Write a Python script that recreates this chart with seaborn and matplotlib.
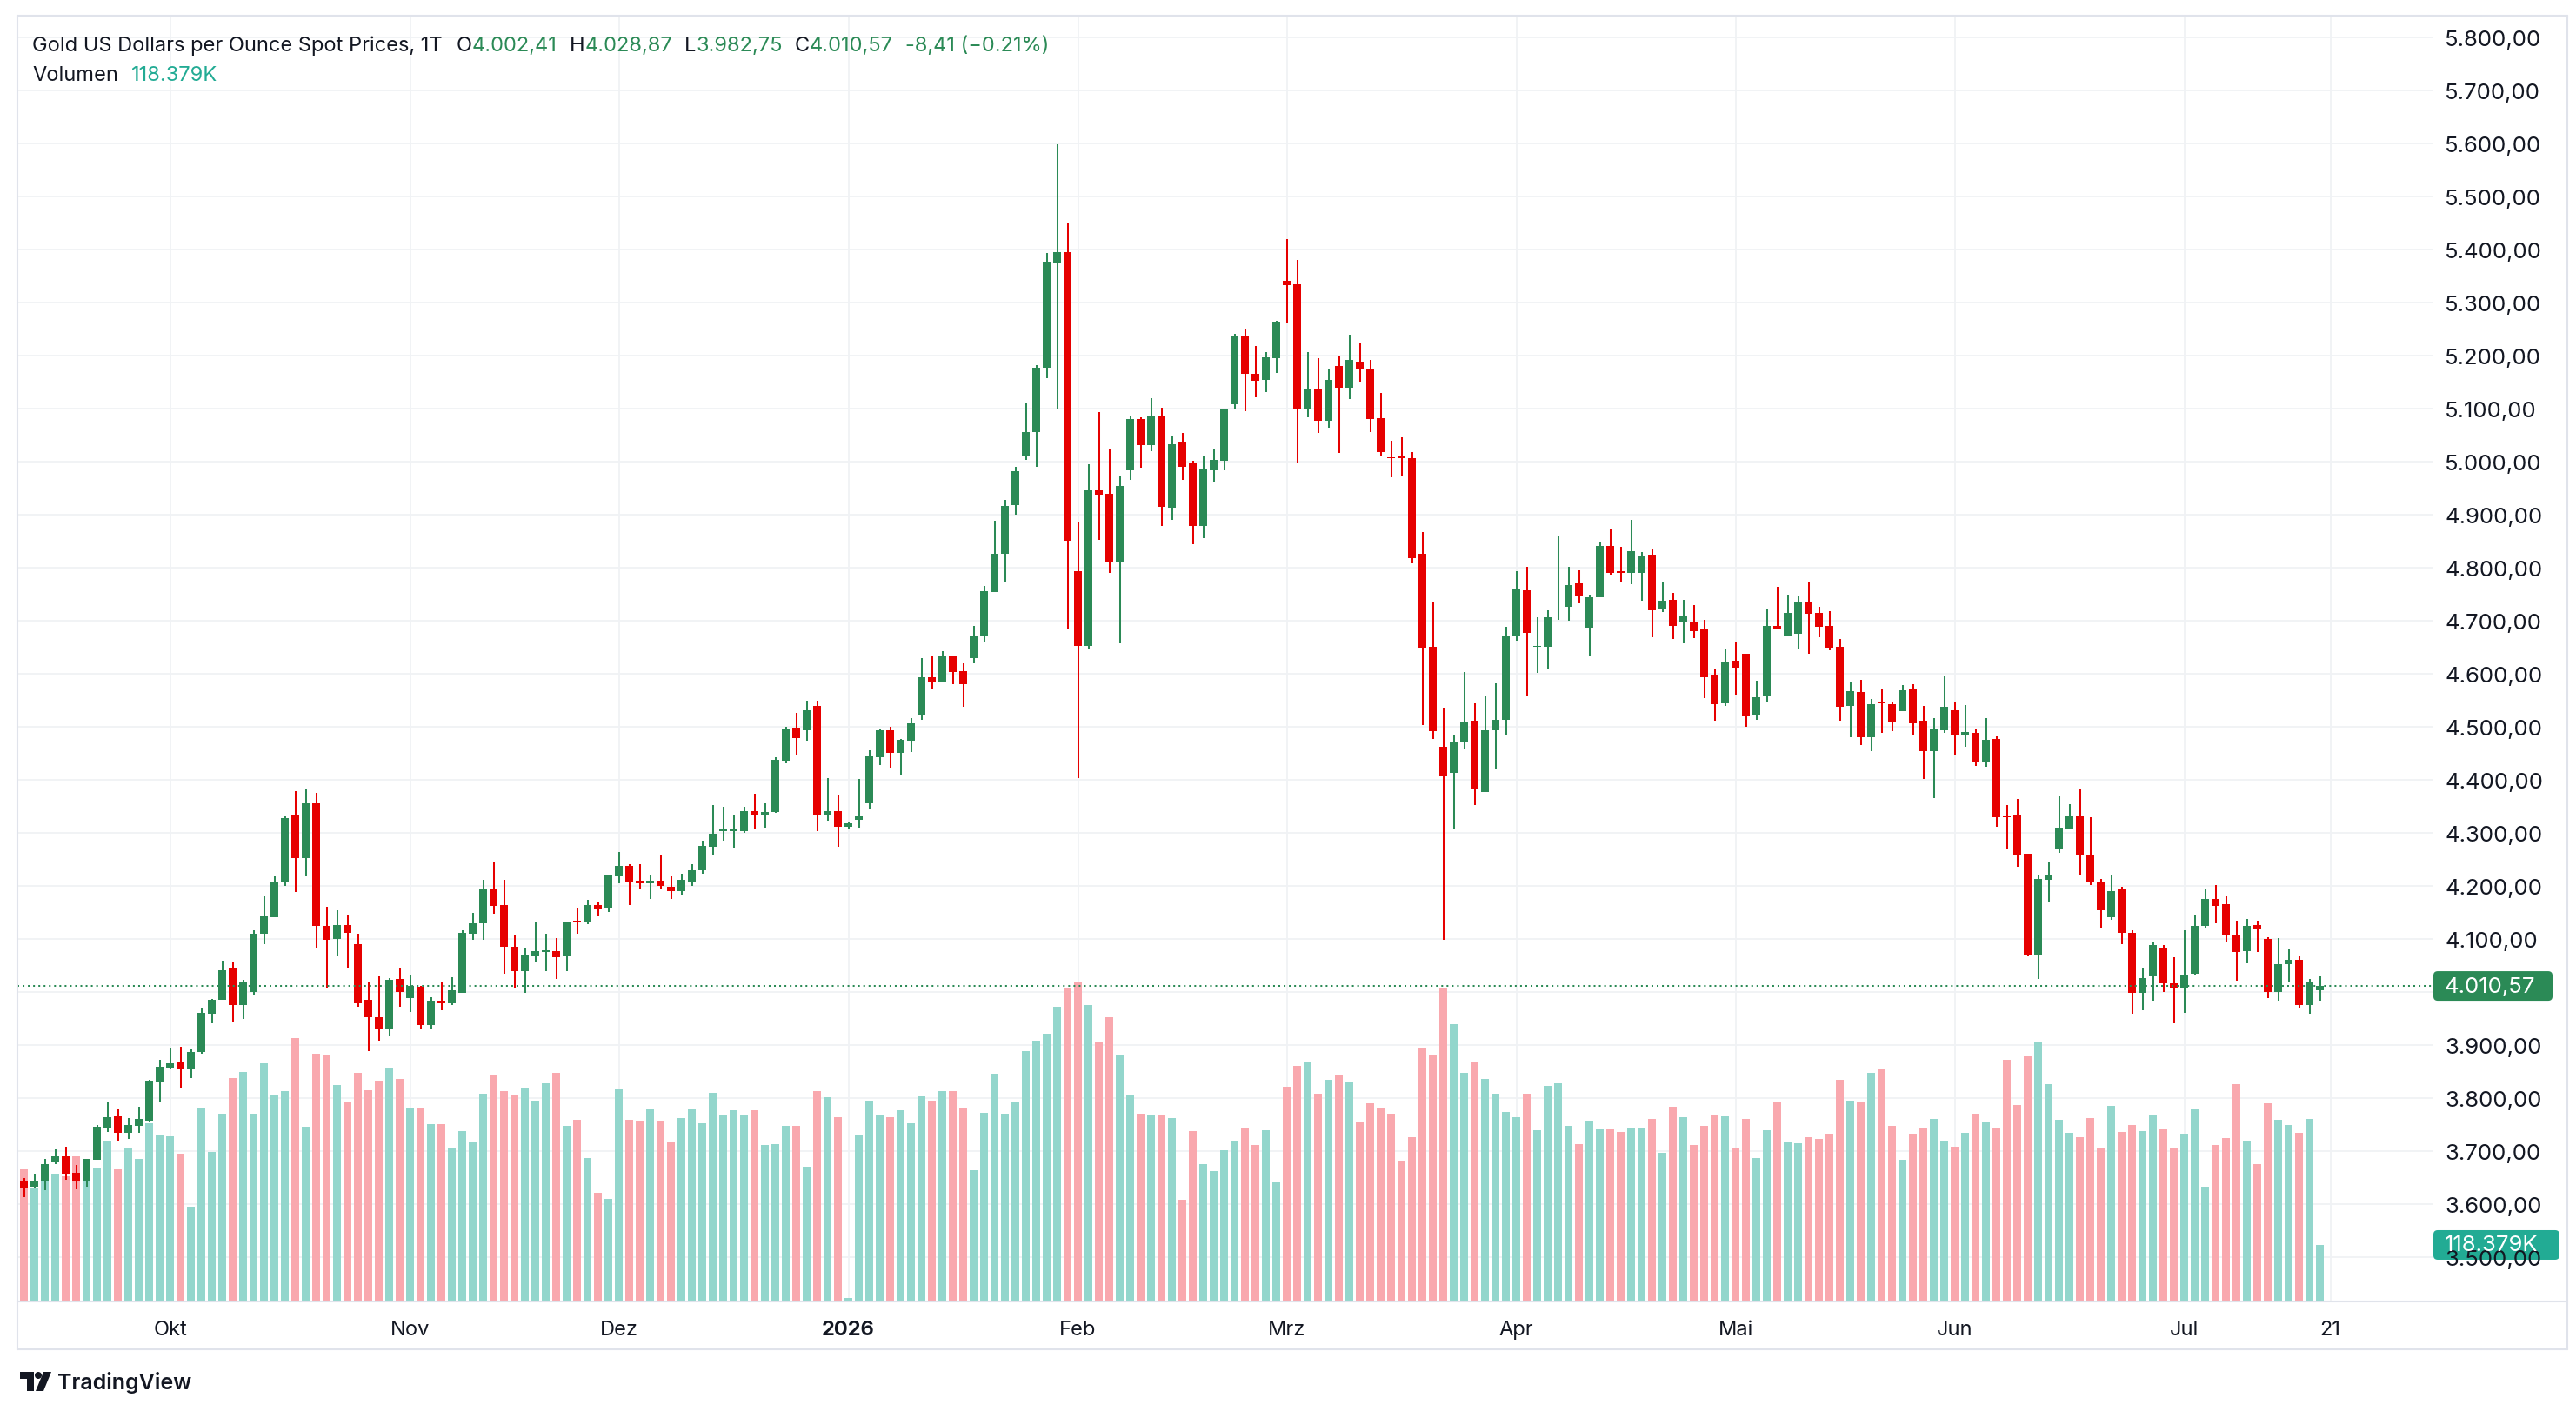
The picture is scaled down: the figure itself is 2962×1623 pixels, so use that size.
import numpy as np
import pandas as pd
import seaborn as sns
import matplotlib.pyplot as plt
from matplotlib.patches import FancyBboxPatch, Polygon, Circle
from matplotlib.lines import Line2D
from matplotlib.transforms import IdentityTransform

# Tageskerzen Gold Spot (USD/oz), ab Mitte Sep 2025 bis 20. Jul 2026
opens = [
    3642, 3632, 3642, 3678, 3689, 3658, 3642, 3683, 3744, 3765,
    3734, 3747, 3755, 3830, 3857, 3867, 3854, 3886, 3959, 3984,
    4044, 3974, 4000, 4109, 4141, 4208, 4332, 4251, 4355, 4124,
    4100, 4126, 4089, 3984, 3952, 3929, 4024, 3988, 4009, 3937,
    3983, 3978, 3998, 4109, 4128, 4194, 4163, 4084, 4039, 4067,
    4075, 4076, 4067, 4134, 4130, 4163, 4157, 4217, 4237, 4209,
    4204, 4209, 4198, 4189, 4208, 4228, 4273, 4303, 4303, 4303,
    4340, 4332, 4339, 4435, 4498, 4493, 4539, 4332, 4340, 4311,
    4324, 4355, 4442, 4493, 4450, 4473, 4520, 4593, 4583, 4632,
    4604, 4628, 4670, 4754, 4825, 4917, 5011, 5055, 5176, 5375,
    5395, 4792, 4652, 4945, 4938, 4811, 4983, 5080, 5030, 5086,
    4913, 5037, 4996, 4878, 4983, 5001, 5107, 5237, 5165, 5153,
    5194, 5341, 5333, 5097, 5135, 5076, 5180, 5138, 5187, 5175,
    5081, 5007, 5009, 5005, 4825, 4650, 4461, 4412, 4471, 4510,
    4377, 4492, 4512, 4669, 4756, 4650, 4650, 4723, 4725, 4769,
    4686, 4743, 4841, 4792, 4790, 4790, 4823, 4720, 4738, 4696,
    4697, 4683, 4597, 4544, 4624, 4637, 4521, 4559, 4689, 4672,
    4675, 4734, 4714, 4689, 4650, 4539, 4565, 4480, 4547, 4542,
    4529, 4570, 4511, 4454, 4493, 4531, 4482, 4488, 4434, 4476,
    4330, 4332, 4260, 4070, 4210, 4270, 4307, 4330, 4256, 4208,
    4141, 4193, 4111, 3998, 4029, 4083, 4016, 4006, 4033, 4124,
    4175, 4165, 4105, 4077, 4126, 4100, 4000, 4051, 4060, 3974,
    4002.41,
]
highs = [
    3648, 3657, 3684, 3702, 3707, 3673, 3685, 3748, 3791, 3778,
    3762, 3783, 3834, 3871, 3895, 3896, 3891, 3970, 3986, 4058,
    4057, 4022, 4116, 4180, 4218, 4331, 4378, 4381, 4375, 4160,
    4154, 4144, 4109, 4019, 4029, 4025, 4045, 4030, 4010, 3989,
    4019, 4027, 4116, 4148, 4211, 4243, 4211, 4107, 4081, 4132,
    4109, 4101, 4132, 4158, 4173, 4168, 4221, 4263, 4240, 4240,
    4219, 4258, 4217, 4222, 4240, 4284, 4352, 4348, 4334, 4348,
    4373, 4355, 4442, 4499, 4525, 4548, 4548, 4403, 4371, 4319,
    4401, 4455, 4496, 4499, 4477, 4516, 4629, 4634, 4642, 4632,
    4619, 4689, 4765, 4888, 4927, 4989, 5111, 5182, 5392, 5598,
    5450, 4884, 4994, 5092, 5024, 4971, 5086, 5083, 5119, 5101,
    5047, 5053, 5001, 5010, 5022, 5098, 5240, 5250, 5217, 5206,
    5265, 5419, 5380, 5206, 5194, 5175, 5198, 5238, 5223, 5191,
    5128, 5038, 5045, 5017, 4866, 4734, 4536, 4483, 4602, 4544,
    4556, 4581, 4688, 4792, 4801, 4706, 4719, 4858, 4801, 4795,
    4749, 4846, 4871, 4838, 4890, 4828, 4833, 4772, 4752, 4738,
    4729, 4701, 4609, 4645, 4658, 4637, 4586, 4722, 4763, 4748,
    4747, 4773, 4725, 4717, 4665, 4583, 4588, 4552, 4570, 4546,
    4578, 4580, 4539, 4516, 4594, 4546, 4541, 4496, 4515, 4481,
    4352, 4363, 4260, 4219, 4245, 4368, 4353, 4381, 4329, 4213,
    4221, 4198, 4115, 4044, 4095, 4087, 4064, 4115, 4144, 4195,
    4201, 4180, 4134, 4137, 4134, 4103, 4101, 4080, 4067, 4023,
    4028.87,
]
lows = [
    3613, 3631, 3625, 3675, 3645, 3627, 3632, 3683, 3735, 3717,
    3722, 3734, 3753, 3793, 3854, 3819, 3837, 3883, 3940, 3984,
    3944, 3948, 3995, 4090, 4141, 4200, 4187, 4218, 4082, 4006,
    4066, 4044, 3972, 3887, 3908, 3915, 3972, 3962, 3929, 3929,
    3964, 3974, 3998, 4097, 4098, 4146, 4033, 4006, 3998, 4056,
    4039, 4023, 4039, 4109, 4127, 4142, 4150, 4204, 4163, 4194,
    4175, 4194, 4175, 4183, 4200, 4222, 4257, 4284, 4271, 4299,
    4307, 4309, 4337, 4430, 4447, 4473, 4303, 4322, 4273, 4306,
    4309, 4345, 4427, 4422, 4407, 4452, 4513, 4569, 4582, 4580,
    4537, 4619, 4659, 4754, 4772, 4900, 5003, 4989, 5157, 5100,
    4683, 4402, 4645, 4852, 4790, 4656, 4965, 4987, 5019, 4878,
    4889, 4965, 4843, 4855, 4962, 4982, 5100, 5095, 5121, 5131,
    5167, 5262, 4998, 5083, 5053, 5063, 5015, 5118, 5150, 5055,
    5009, 4969, 4973, 4808, 4502, 4477, 4098, 4307, 4456, 4352,
    4376, 4420, 4483, 4661, 4556, 4601, 4607, 4701, 4699, 4732,
    4633, 4743, 4786, 4773, 4768, 4737, 4668, 4715, 4664, 4657,
    4667, 4554, 4510, 4539, 4560, 4500, 4513, 4546, 4683, 4672,
    4647, 4637, 4668, 4644, 4511, 4480, 4464, 4454, 4488, 4491,
    4529, 4482, 4401, 4365, 4488, 4447, 4462, 4426, 4423, 4311,
    4269, 4236, 4067, 4023, 4170, 4262, 4306, 4219, 4201, 4121,
    4136, 4090, 3959, 3964, 3983, 4000, 3941, 3960, 4032, 4121,
    4128, 4092, 4021, 4054, 4074, 3987, 3983, 4018, 3969, 3959,
    3982.75,
]
closes = [
    3630, 3643, 3675, 3689, 3656, 3642, 3684, 3745, 3763, 3734,
    3748, 3760, 3832, 3858, 3865, 3854, 3886, 3960, 3985, 4040,
    3975, 4018, 4109, 4142, 4208, 4327, 4251, 4355, 4123, 4097,
    4126, 4110, 3978, 3951, 3929, 4022, 4000, 4010, 3937, 3983,
    3978, 4003, 4111, 4129, 4194, 4162, 4085, 4039, 4068, 4076,
    4078, 4065, 4132, 4130, 4163, 4155, 4219, 4237, 4207, 4204,
    4209, 4199, 4189, 4210, 4228, 4275, 4298, 4306, 4306, 4340,
    4332, 4339, 4437, 4496, 4478, 4530, 4332, 4340, 4311, 4317,
    4330, 4443, 4493, 4450, 4475, 4506, 4593, 4583, 4632, 4603,
    4580, 4671, 4755, 4825, 4916, 4981, 5055, 5177, 5376, 5395,
    4850, 4652, 4945, 4937, 4811, 4953, 5080, 5030, 5086, 4914,
    5032, 4990, 4878, 4984, 5002, 5098, 5237, 5164, 5151, 5196,
    5263, 5332, 5097, 5135, 5077, 5154, 5138, 5191, 5175, 5079,
    5018, 5005, 5006, 4817, 4648, 4491, 4406, 4471, 4507, 4381,
    4493, 4512, 4669, 4759, 4676, 4651, 4705, 4724, 4766, 4747,
    4743, 4841, 4789, 4789, 4830, 4820, 4719, 4737, 4690, 4707,
    4680, 4593, 4542, 4620, 4611, 4519, 4555, 4689, 4683, 4714,
    4734, 4713, 4687, 4649, 4537, 4566, 4480, 4542, 4544, 4508,
    4568, 4505, 4454, 4495, 4537, 4482, 4490, 4433, 4475, 4328,
    4328, 4259, 4070, 4212, 4219, 4309, 4330, 4256, 4208, 4154,
    4190, 4110, 3998, 4026, 4088, 4015, 4006, 4031, 4123, 4175,
    4162, 4105, 4074, 4123, 4118, 4000, 4052, 4060, 3974, 4019,
    4010.57,
]
# Volumen in Tausend
volume_k = [
    277, 236, 262, 268, 262, 304, 268, 279, 335, 277,
    322, 299, 373, 348, 346, 310, 198, 404, 313, 393,
    468, 481, 393, 499, 433, 441, 552, 366, 519, 517,
    453, 419, 479, 442, 462, 488, 466, 406, 404, 371,
    371, 320, 357, 333, 435, 473, 441, 433, 446, 421,
    457, 479, 368, 381, 300, 228, 215, 444, 381, 377,
    402, 379, 333, 384, 402, 373, 437, 390, 401, 390,
    401, 328, 330, 368, 368, 282, 441, 428, 386, 7,
    348, 421, 392, 386, 401, 373, 430, 421, 441, 441,
    404, 275, 395, 477, 393, 419, 524, 546, 561, 617,
    657, 670, 621, 544, 595, 515, 433, 393, 390, 392,
    384, 213, 357, 288, 273, 317, 335, 364, 328, 359,
    249, 450, 493, 501, 435, 464, 475, 461, 375, 415,
    404, 393, 293, 344, 532, 515, 656, 581, 479, 501,
    466, 435, 397, 386, 435, 359, 452, 457, 368, 330,
    377, 361, 361, 355, 362, 364, 382, 311, 408, 386,
    328, 368, 390, 388, 322, 382, 300, 359, 419, 333,
    331, 344, 340, 351, 464, 421, 419, 479, 486, 368,
    297, 351, 364, 382, 337, 324, 353, 393, 375, 364,
    506, 411, 513, 544, 455, 381, 353, 344, 384, 320,
    410, 355, 370, 357, 392, 361, 320, 351, 402, 240,
    328, 342, 455, 337, 288, 415, 381, 370, 353, 382,
    118.379,
]

month_pos = [14, 37, 57, 79, 101, 121, 143, 164, 185, 207, 221]
month_labels = ["Okt", "Nov", "Dez", "2026", "Feb", "Mrz", "Apr", "Mai", "Jun", "Jul", "21"]
price_ticks = [3500, 3600, 3700, 3800, 3900, 4000, 4100, 4200, 4300, 4400, 4500, 4600,
               4700, 4800, 4900, 5000, 5100, 5200, 5300, 5400, 5500, 5600, 5700, 5800]

FIG_W, FIG_H = 2962, 1624
UP, DOWN = "#2b8a56", "#e60000"
VOL_UP, VOL_DOWN = "#93d6cc", "#f9a8ae"
TEXT = "#131722"
GRID = "#f0f2f5"
FRAME = "#e0e3eb"
VOL_TAG = "#22ab94"
AXIS_FS = 18.5
TIME_FS = 17
HEAD_FS = 17


def de_num(v):
    # deutsches Zahlenformat 4.010,57
    return f"{v:,.2f}".replace(",", "X").replace(".", ",").replace("X", ".")


df = pd.DataFrame({"open": opens, "high": highs, "low": lows,
                   "close": closes, "volume": volume_k})
df["idx"] = np.arange(len(df))
df["dir"] = np.where(df["close"] >= df["open"], "up", "down")
last = df.iloc[-1]

sns.set_theme(style="white")
plt.rcParams["font.family"] = ["Inter", "DejaVu Sans"]

fig = plt.figure(figsize=(FIG_W / 100, FIG_H / 100), dpi=100)
fig.patch.set_facecolor("white")

# Plotbereich: x 20..2798 px, y 19..1498 px (von oben)
ax = fig.add_axes([20 / FIG_W, 1 - 1498 / FIG_H, 2778 / FIG_W, 1479 / FIG_H])
axv = ax.twinx()
ax.set_zorder(axv.get_zorder() + 1)
ax.patch.set_visible(False)

# Gitter unter den Volumenbalken
axv.hlines(price_ticks, 0, 1, transform=ax.get_yaxis_transform(), color=GRID, lw=1.3, zorder=0)
axv.vlines(month_pos, 0, 1, transform=axv.get_xaxis_transform(), color=GRID, lw=1.3, zorder=0)

# Volumen
sns.barplot(data=df, x="idx", y="volume", hue="dir",
            palette={"up": VOL_UP, "down": VOL_DOWN}, native_scale=True,
            dodge=False, width=0.8, saturation=1, errorbar=None, legend=False,
            linewidth=0, ax=axv)
axv.set_ylim(0, 2693)
axv.set_yticks([])
axv.set_ylabel("")
axv.set_xlabel("")

# Kerzen
for d, col in (("up", UP), ("down", DOWN)):
    sub = df[df["dir"] == d]
    ax.vlines(sub["idx"], sub["low"], sub["high"], color=col, lw=1.45, zorder=3)
    body = (sub["close"] - sub["open"]).abs().clip(lower=1.6)
    ax.bar(sub["idx"], body, bottom=np.minimum(sub["open"], sub["close"]),
           width=0.83, color=col, linewidth=0, zorder=4)

ax.axhline(last["close"], color=UP, lw=1.45, ls=(0, (1, 2)), zorder=5)

ax.set_xlim(-0.625, 230.875)
ax.set_ylim(3415.6, 5840.2)
ax.set_xticks(month_pos, month_labels)
# Beschriftung, die unter dem Kursmarker liegt, wird ausgeblendet
ax.set_yticks(price_ticks, [de_num(p) if abs(p - last["close"]) > 25 else "" for p in price_ticks])
ax.yaxis.tick_right()
ax.tick_params(axis="y", length=0, pad=9.5, labelsize=AXIS_FS, labelcolor=TEXT)
ax.tick_params(axis="x", length=0, pad=15, labelsize=TIME_FS, labelcolor=TEXT)
ax.get_xticklabels()[3].set_fontweight("bold")
ax.grid(False)
axv.grid(False)
ax.set_xlabel("")
ax.set_ylabel("")
for a in (ax, axv):
    for s in a.spines.values():
        s.set_visible(False)

# Rahmen
def hline_px(x0, x1, y):
    fig.add_artist(Line2D([x0, x1], [FIG_H - y, FIG_H - y], color=FRAME, lw=1.5,
                          transform=IdentityTransform()))

def vline_px(x, y0, y1):
    fig.add_artist(Line2D([x, x], [FIG_H - y0, FIG_H - y1], color=FRAME, lw=1.5,
                          transform=IdentityTransform()))

hline_px(20, 2952, 19)
hline_px(20, 2952, 1498)
hline_px(20, 2952, 1553)
vline_px(20, 19, 1553)
vline_px(2952, 19, 1553)

# Preis- und Volumen-Marker an der Achse
def tag(ypix, x1, txt, color):
    box = FancyBboxPatch((2798, ypix - 17), x1 - 2798, 34,
                         boxstyle="round,pad=0,rounding_size=5",
                         fc=color, ec="none", transform=IdentityTransform())
    fig.add_artist(box)
    fig.text(2811 / FIG_W, ypix / FIG_H, txt, color="white", fontsize=AXIS_FS,
             va="center", ha="left")

y_close = ax.transData.transform((0, last["close"]))[1]
y_vol = axv.transData.transform((0, last["volume"]))[1]
tag(y_close, 2935, de_num(last["close"]), UP)
tag(y_vol, 2943, f"{last['volume']:.3f}K", VOL_TAG)

# Kopfzeile
renderer = fig.canvas.get_renderer()

def text_row(x, y, parts, size):
    for txt, col, gap in parts:
        t = fig.text(x / FIG_W, 1 - y / FIG_H, txt, color=col, fontsize=size,
                     va="center", ha="left")
        x = t.get_window_extent(renderer).x1 + gap

text_row(37, 53, [
    ("Gold US Dollars per Ounce Spot Prices, 1T", TEXT, 16),
    ("O", TEXT, 0), (de_num(last["open"]), UP, 14),
    ("H", TEXT, 0), (de_num(last["high"]), UP, 14),
    ("L", TEXT, 0), (de_num(last["low"]), UP, 14),
    ("C", TEXT, 0), (de_num(last["close"]), UP, 14),
    ("-8,41 (\u22120.21%)", UP, 0),
], HEAD_FS)
text_row(37, 87, [("Volumen", TEXT, 15), (f"{last['volume']:.3f}K", VOL_TAG, 0)], HEAD_FS)

# TradingView Logo
logo = [
    Polygon([(23, FIG_H - 1579), (39, FIG_H - 1579), (39, FIG_H - 1601),
             (31, FIG_H - 1601), (31, FIG_H - 1587), (23, FIG_H - 1587)], closed=True),
    Circle((44, FIG_H - 1583), 4),
    Polygon([(50, FIG_H - 1579), (59, FIG_H - 1579), (50, FIG_H - 1601),
             (41, FIG_H - 1601)], closed=True),
]
for p in logo:
    p.set_transform(IdentityTransform())
    p.set_facecolor(TEXT)
    p.set_edgecolor("none")
    fig.add_artist(p)
fig.text(66 / FIG_W, 1 - 1591 / FIG_H, "TradingView", color=TEXT, fontsize=18,
         fontweight="semibold", va="center", ha="left")

fig.savefig("out.png", dpi=100, facecolor="white")
